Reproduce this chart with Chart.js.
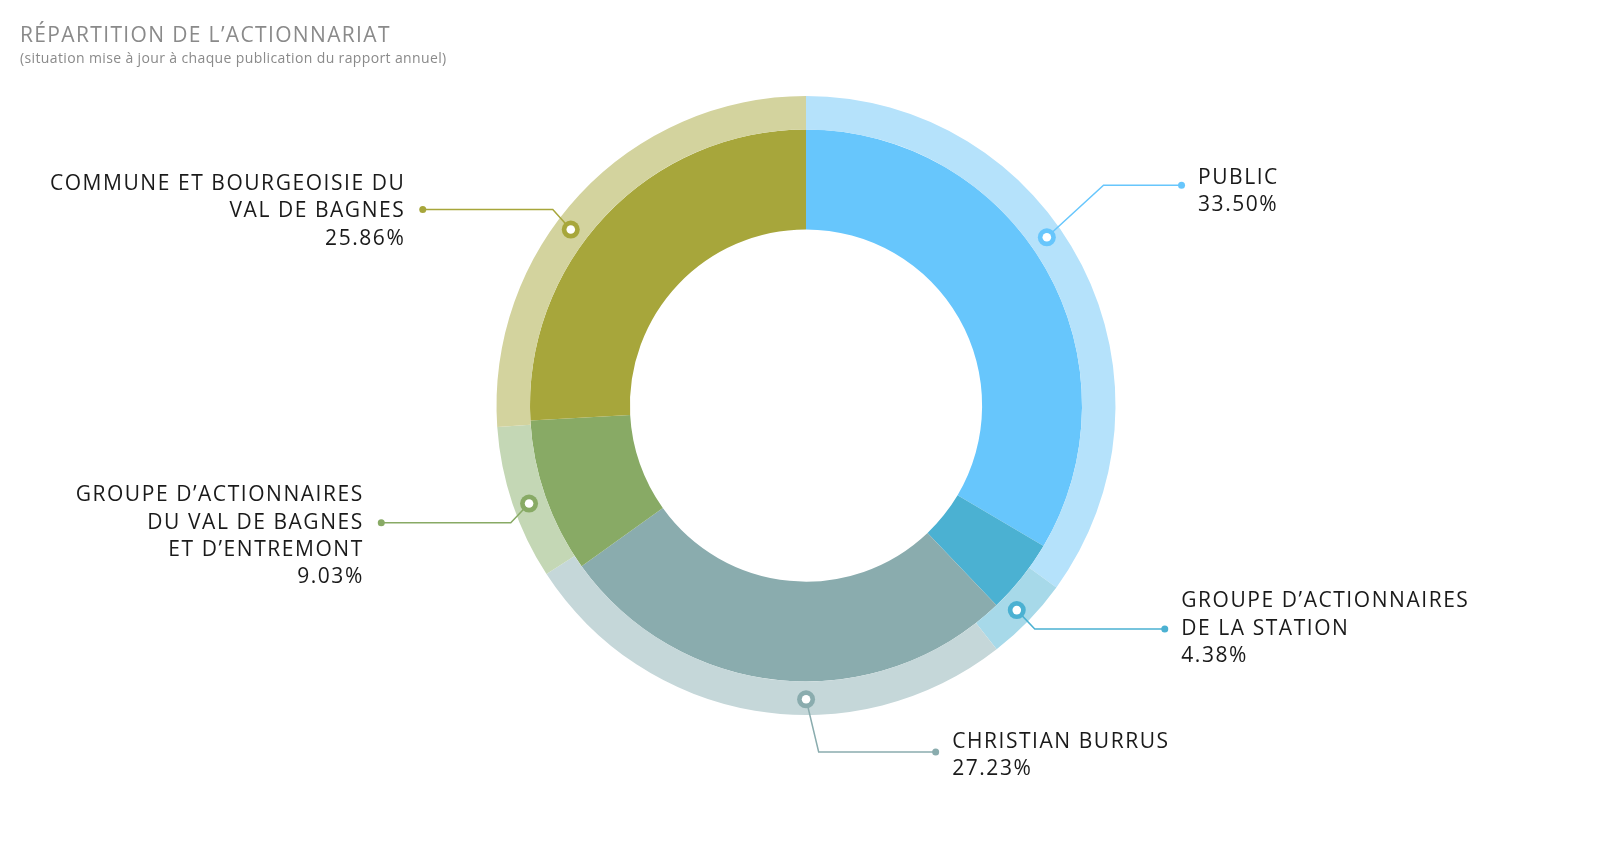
<!DOCTYPE html>
<html>
<head>
<meta charset="utf-8">
<script src="https://cdn.jsdelivr.net/npm/chart.js@4/dist/chart.umd.min.js"></script>
<style>
  body{margin:0;background:#fff;}
  #wrap{position:relative;width:1600px;height:847px;}
  #titre{position:absolute;left:20px;top:21px;font-family:"Open Sans",sans-serif;font-size:21px;line-height:27px;letter-spacing:1.35px;color:#8a8a8a;}
  #sous-titre{position:absolute;left:20px;top:49px;font-family:"Open Sans",sans-serif;font-size:14px;line-height:18px;letter-spacing:0.37px;color:#8a8a8a;}
  #graph{position:absolute;left:0;top:0;}
</style>
</head>
<body>
<div id="wrap">
  <canvas id="graph" width="1600" height="847"></canvas>
  <div id="titre">RÉPARTITION DE L’ACTIONNARIAT</div>
  <div id="sous-titre">(situation mise à jour à chaque publication du rapport annuel)</div>
</div>
<script>
// actionnaires, dans l'ordre des aiguilles d'une montre depuis midi
let actionnaires = [
    ['PUBLIC'],
    ['GROUPE D’ACTIONNAIRES', 'DE LA STATION'],
    ['CHRISTIAN BURRUS'],
    ['GROUPE D’ACTIONNAIRES', 'DU VAL DE BAGNES', 'ET D’ENTREMONT'],
    ['COMMUNE ET BOURGEOISIE DU', 'VAL DE BAGNES']
];
let parts = [33.50, 4.38, 27.23, 9.03, 25.86];
// anneau exterieur clair (legerement decale dans l'original)
let partsAnneau = [35.00, 4.44, 26.39, 8.06, 26.11];

let couleurs = ['#67c6fc', '#4bb1d2', '#8aacae', '#88aa65', '#a7a63b'];
let couleursClaires = ['#b5e2fb', '#a7d9e9', '#c5d7d9', '#c4d7b5', '#d3d39e'];

// mise en page des etiquettes : position du repere sur l'arc, coude, longueur du trait, decalage du texte
let reperes = [
    {frac: 0.437, coude: [56.7, -52], longueur: 78, dyTexte: -7.5},
    {frac: 0.51, coude: [18, 19], longueur: 130, dyTexte: -27.8},
    {frac: 0.40, coude: [12.6, 52.7], longueur: 117, dyTexte: -10},
    {frac: 0.466, coude: [-18.3, 19.3], longueur: 129.5, dyTexte: -27.5},
    {frac: 0.434, coude: [-18, -20], longueur: 130, dyTexte: -25.5}
];

let espacement = 1.55;

let etiquettes = {
    id: 'etiquettes',
    afterDraw: (chart)=>{
        let ctx = chart.ctx;
        let arcs = chart.getDatasetMeta(0).data;
        ctx.save();
        for(let i = 0; i < arcs.length; i++){
            let arc = arcs[i];
            let r = (arc.innerRadius + arc.outerRadius) / 2 + 1;
            let a = arc.startAngle + reperes[i].frac * (arc.endAngle - arc.startAngle);
            let mx = arc.x + r * Math.cos(a);
            let my = arc.y + r * Math.sin(a);
            let cx = mx + reperes[i].coude[0];
            let cy = my + reperes[i].coude[1];
            let sens = reperes[i].coude[0] < 0 ? -1 : 1;
            let px = cx + sens * reperes[i].longueur;

            ctx.strokeStyle = couleurs[i];
            ctx.lineWidth = 1.5;
            ctx.beginPath();
            ctx.moveTo(mx, my);
            ctx.lineTo(cx, cy);
            ctx.lineTo(px, cy);
            ctx.stroke();

            ctx.fillStyle = couleurs[i];
            ctx.beginPath();
            ctx.arc(px, cy, 3.5, 0, Math.PI * 2);
            ctx.fill();

            ctx.beginPath();
            ctx.arc(mx, my, 9, 0, Math.PI * 2);
            ctx.fill();
            ctx.fillStyle = '#ffffff';
            ctx.beginPath();
            ctx.arc(mx, my, 4.3, 0, Math.PI * 2);
            ctx.fill();

            let lignes = actionnaires[i].concat([parts[i].toFixed(2) + '%']);
            ctx.fillStyle = '#1a1a1a';
            ctx.font = '21px "Open Sans"';
            ctx.letterSpacing = espacement + 'px';
            ctx.textBaseline = 'middle';
            ctx.textAlign = sens < 0 ? 'right' : 'left';
            // l'espacement final ajoute un vide a droite du texte aligne a droite
            let tx = sens < 0 ? px - 19 + espacement : px + 16.5;
            for(let j = 0; j < lignes.length; j++){
                ctx.fillText(lignes[j], tx, cy + reperes[i].dyTexte + j * 27.3);
            }
        }
        ctx.restore();
    }
};

new Chart('graph', {
    type: 'doughnut',
    data: {
        labels: actionnaires.map(l => l.join(' ')),
        datasets: [{
            data: partsAnneau,
            backgroundColor: couleursClaires,
            borderWidth: 0,
            weight: 33.5
        }, {
            data: parts,
            backgroundColor: couleurs,
            borderWidth: 0,
            weight: 100
        }]
    },
    options: {
        responsive: false,
        animation: false,
        cutout: '56.9%',
        events: [],
        layout: {padding: {top: 96, bottom: 132, left: 496.5, right: 484.5}},
        plugins: {legend: {display: false}, tooltip: {enabled: false}}
    },
    plugins: [etiquettes]
});
</script>
</body>
</html>
